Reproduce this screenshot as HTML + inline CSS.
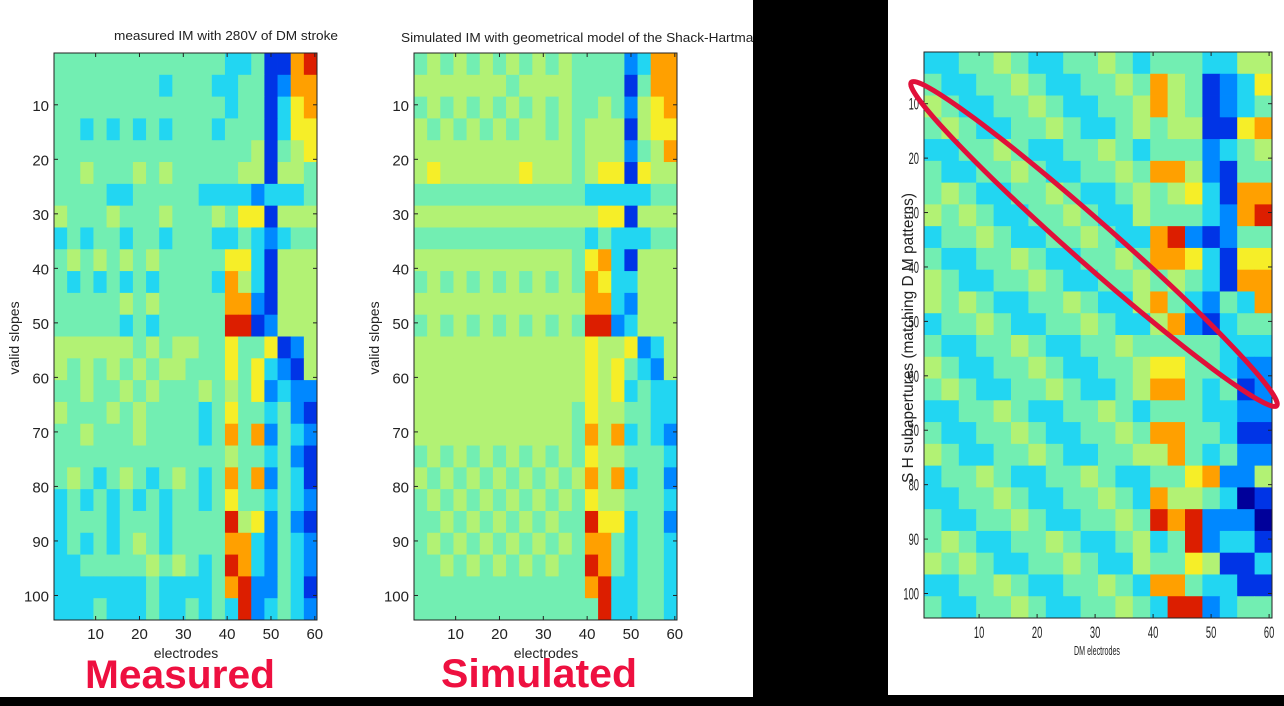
<!DOCTYPE html>
<html><head><meta charset="utf-8"><style>
html,body{margin:0;padding:0;background:#000;}
svg{display:block;font-family:"Liberation Sans",sans-serif;}
</style></head><body>
<svg id="fig" width="1284" height="706" viewBox="0 0 1284 706" xmlns="http://www.w3.org/2000/svg">
<rect x="0" y="0" width="1284" height="706" fill="#000"/>
<rect x="0" y="0" width="753" height="697" fill="#fff"/>
<rect x="888" y="0" width="396" height="695" fill="#fff"/>
<g id="p1"></g>
<g id="p2"></g>
<g id="p3"></g>
<text x="226" y="40" font-size="13" fill="#222" text-anchor="middle" textLength="224" lengthAdjust="spacingAndGlyphs">measured IM with 280V of DM stroke</text>
<text x="401" y="42" font-size="13" fill="#222" textLength="360" lengthAdjust="spacingAndGlyphs">Simulated IM with geometrical model of the Shack-Hartman</text>
<rect x="753" y="0" width="135" height="697" fill="#000"/>
<text transform="translate(19,338) rotate(-90)" font-size="14" fill="#222" text-anchor="middle">valid slopes</text>
<text transform="translate(379,338) rotate(-90)" font-size="14" fill="#222" text-anchor="middle">valid slopes</text>
<text x="186" y="658" font-size="14" fill="#222" text-anchor="middle">electrodes</text>
<text x="546" y="658" font-size="14" fill="#222" text-anchor="middle">electrodes</text>
<text x="180" y="688" font-size="40" font-weight="bold" fill="#ee1040" text-anchor="middle" textLength="190" lengthAdjust="spacingAndGlyphs">Measured</text>
<text x="539" y="687" font-size="40" font-weight="bold" fill="#ee1040" text-anchor="middle" textLength="196" lengthAdjust="spacingAndGlyphs">Simulated</text>
<text transform="translate(913,338) rotate(-90)" font-size="16" fill="#222" text-anchor="middle" textLength="290" lengthAdjust="spacingAndGlyphs">S H  subapertures  (matching  D M  patterns)</text>
<text x="1097" y="655" font-size="13" fill="#222" text-anchor="middle" textLength="46" lengthAdjust="spacingAndGlyphs">DM electrodes</text>
<ellipse cx="1094" cy="244" rx="244" ry="21" transform="rotate(41.5 1094 244)" fill="none" stroke="#e0103a" stroke-width="5"/>
</svg>
<script>
const xTicks = [10,20,30,40,50,60];
const yTicks = [10,20,30,40,50,60,70,80,90,100];
const nCols = 60, nRows = 104;
const measuredGrid = [
"44444444444443341178","44444444344433441277","44444444444443441367","44343434344434441366","44444444444444451456","44544454544444551554",
"44443344444333323334","54445444544454661555","34344344344433432344","45454545444446631555","43434343444437531555","44444545444447721555",
"44444343444448812555","55555545455446446125","54545454554446463215","44544545444545462322","54445454444346443421","44544454444347472432",
"44444444444445443421","45434543454347472431","34343434344346443432","34443444344448562421","34343454344447732432","33444445454348732432",
"33333334333347822431","33343334334343823432"];
const simulatedGrid = [
"45454545454544442377","55555554555544441477","45454545454544542567","54545454554545551566","55555555555545552457","56555555655545661655",
"44444444444443333344","55555555555555661555","44444444444443433344","55555555555546731555","45454545454547633555","55555555555557732555",
"45454545454548823555","55555555555556556235","55555555555556564325","55555555555556563433","55555555555546554433","55555555555547573432",
"45454545454546554443","54545454545457573442","45454545454546554443","44545454545448663442","45454545454547743443","44545454545448743443",
"44444444444447833443","44444444444444833443"];
const shGrid = [
"33445433445434443355","43344543344547541236","54334454334457541234","45433445433454551167","33445433445434442345","43344543344547752144",
"45433445433454563177","54543344543354443278","34454334454337821244","43344543344547763166","54334454334454543177","54543344543357432437",
"34454334454335721344","43344543344544444333","54334454334456644322","45433445433457743412","33445433445434443322","43344543344547744311",
"54334454334455743422","34454334454334467225","33445433445437554301","43344543344548782220","45433445433453482331","54543344543354465113",
"33445433445437743311","43344543344543882344"];
const palette = ["#00009a","#0034e6","#0088ff","#22d6f2","#72eeb2","#b2f274","#f6ee28","#ffa000","#dc1e00"];
const SVGNS = "http://www.w3.org/2000/svg";
function mk(tag, attrs, parent){const e=document.createElementNS(SVGNS,tag);for(const k in attrs)e.setAttribute(k,attrs[k]);parent.appendChild(e);return e;}
function drawPanel(gid, grid, x0, y0, w, h, style){
  const g = document.getElementById(gid);
  const cw = w / nCols, rh = h / nRows;
  const xs = c => x0 + (c - 0.5) * cw;
  const ys = r => y0 + (r - 0.5) * rh;
  grid.forEach((row, k) => {
    for (let j = 0; j < row.length; j++) {
      const c1 = j*3+1, r1 = k*4+1;
      const rc = mk('rect', {x:(xs(c1)-cw/2).toFixed(2), y:(ys(r1)-rh/2).toFixed(2), width:(3*cw+0.4).toFixed(2), height:(4*rh+0.4).toFixed(2), fill:palette[+row[j]]}, g);
      
      
    }
  });
  const fr = mk('rect', {x:x0, y:y0, width:w, height:h, fill:'none', stroke:'#222', 'stroke-width':1}, g);
  
  
  xTicks.forEach(t => {
    const x = xs(t);
    mk('line', {x1:x, x2:x, y1:y0+h, y2:y0+h-4, stroke:'#222'}, g);
    mk('line', {x1:x, x2:x, y1:y0, y2:y0+4, stroke:'#222'}, g);
    const tx = mk('text', {x:x, y:y0+h+(style.cond?20:19), 'font-size':style.fs, fill:'#222', 'text-anchor':'middle'}, g);
    if (style.cond) tx.setAttribute('transform', `translate(${x},0) scale(0.55,1) translate(${-x},0)`);
    tx.textContent = t;
    
    
  });
  yTicks.forEach(t => {
    const y = ys(t);
    mk('line', {x1:x0, x2:x0+4, y1:y, y2:y, stroke:'#222'}, g);
    mk('line', {x1:x0+w, x2:x0+w-4, y1:y, y2:y, stroke:'#222'}, g);
    const tx = mk('text', {x:x0-5, y:y+6, 'font-size':style.fs, fill:'#222', 'text-anchor':'end'}, g);
    if (style.cond) tx.setAttribute('transform', `translate(${x0-5},0) scale(0.55,1) translate(${-(x0-5)},0)`);
    tx.textContent = t;
    
    
  });
}
drawPanel('p1', measuredGrid, 54, 53, 263, 567, {fs:15});
drawPanel('p2', simulatedGrid, 414, 53, 263, 567, {fs:15});
drawPanel('p3', shGrid, 924, 52, 348, 566, {fs:17, cond:true});
</script>
</body></html>
